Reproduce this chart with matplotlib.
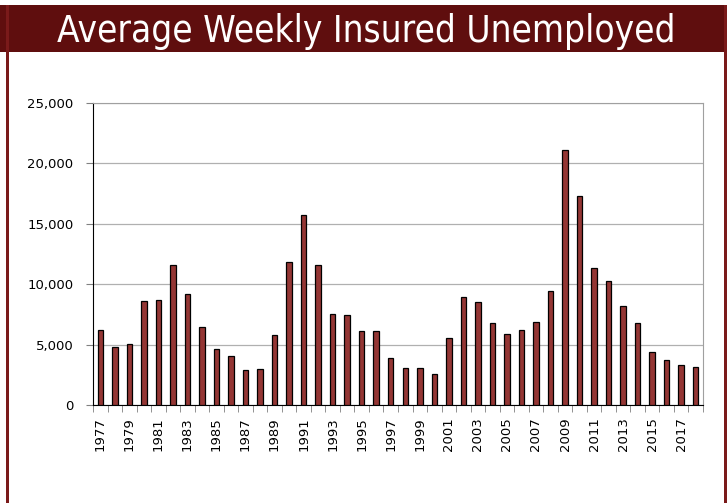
import numpy as np
import matplotlib.pyplot as plt
from matplotlib.patches import Rectangle

years = list(range(1977, 2019))
insured = [6200, 4830, 5050, 8650, 8700, 11600, 9200, 6490, 4640, 4030,
           2900, 3010, 5800, 11800, 15720, 11550, 7570, 7430, 6100, 6160,
           3920, 3090, 3040, 2540, 5580, 8900, 8510, 6770, 5860, 6240,
           6880, 9450, 21080, 17320, 11330, 10300, 8200, 6770, 4420, 3730,
           3310, 3150]
title = 'Average Weekly Insured Unemployed'

W, H = 727, 503
fig = plt.figure(figsize=(W / 100, H / 100), dpi=100)

# banner and frame
fig.patches.append(Rectangle((0, 1 - 52 / H), 1, 47 / H, transform=fig.transFigure,
                             facecolor='#5f0e0e', edgecolor='none', zorder=0))
fig.patches.append(Rectangle((6 / W, 0), 2.5 / W, 1 - 5 / H, transform=fig.transFigure,
                             facecolor='#7a1a1a', edgecolor='none', zorder=0))
fig.patches.append(Rectangle((724 / W, 0), 2.5 / W, 1 - 5 / H, transform=fig.transFigure,
                             facecolor='#7a1a1a', edgecolor='none', zorder=0))
fig.text(366 / W, 1 - 31 / H, title, color='white', fontsize=26.5,
         ha='center', va='center', fontstretch='condensed')

ax = fig.add_axes([93 / W, 1 - 405 / H, 610 / W, 302 / H])
x = np.arange(len(years))
ax.bar(x, insured, width=0.38, color='#943634', edgecolor='black', linewidth=0.9, zorder=3)

ax.set_ylim(0, 25000)
ax.set_xlim(-0.5, len(years) - 0.5)
ax.set_yticks(range(0, 25001, 5000))
ax.set_yticklabels([f'{v:,}' for v in range(0, 25001, 5000)], fontsize=9.5)
ax.yaxis.grid(True, color='#b0b0b0', linewidth=0.9, zorder=0)

ax.set_xticks(x[::2])
ax.set_xticklabels([str(y) for y in years[::2]], rotation=90, fontsize=9.5)
ax.set_xticks(np.arange(-0.5, len(years), 1), minor=True)
ax.tick_params(axis='x', which='major', length=0, pad=9)
ax.tick_params(axis='x', which='minor', length=5, color='#808080')
ax.tick_params(axis='y', length=5, color='#808080', pad=9)

for s in ['top', 'right']:
    ax.spines[s].set_color('#a0a0a0')
ax.spines['left'].set_color('black')
ax.spines['bottom'].set_color('black')

fig.savefig('out.png', dpi=100)
